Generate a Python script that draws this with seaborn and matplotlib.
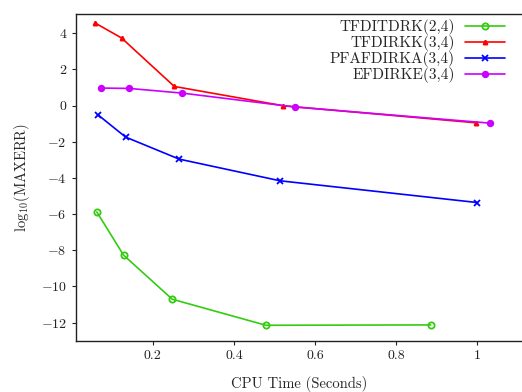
import matplotlib
matplotlib.use("Agg")
import matplotlib.pyplot as plt
import seaborn as sns
import pandas as pd

sns.set_style("ticks")
plt.rcParams['font.family'] = 'serif'
plt.rcParams['font.serif'] = ['cmr10']
plt.rcParams['mathtext.fontset'] = 'cm'
plt.rcParams['axes.formatter.use_mathtext'] = True

labels = ["TFDITDRK(2,4)", "TFDIRKK(3,4)", "PFAFDIRKA(3,4)", "EFDIRKE(3,4)"]
x_tfditdrk = [0.062, 0.128, 0.248, 0.479, 0.885]
y_tfditdrk = [-5.88, -8.27, -10.71, -12.15, -12.13]
x_tfdirkk = [0.057, 0.123, 0.253, 0.522, 0.996]
y_tfdirkk = [4.58, 3.74, 1.06, -0.01, -0.95]
x_pfafdirka = [0.066, 0.133, 0.265, 0.514, 0.999]
y_pfafdirka = [-0.53, -1.74, -2.96, -4.16, -5.36]
x_efdirke = [0.073, 0.142, 0.273, 0.551, 1.031]
y_efdirke = [0.97, 0.95, 0.69, -0.08, -0.97]
x_ticks = [0.2, 0.4, 0.6, 0.8, 1.0]
y_ticks = [4, 2, 0, -2, -4, -6, -8, -10, -12]

xs = [x_tfditdrk, x_tfdirkk, x_pfafdirka, x_efdirke]
ys = [y_tfditdrk, y_tfdirkk, y_pfafdirka, y_efdirke]
colors = ['#33cc11', '#ff0000', '#0000ff', '#cc00ff']
markers = ['o', '^', 'x', 'o']
msizes = [4.5, 3, 5, 4]
mfcs = ['none', '#ff0000', '#0000ff', '#cc00ff']

fig = plt.figure(figsize=(5.22, 3.92), dpi=100)
ax = fig.add_axes([0.145, 0.131, 0.855, 0.833])

for lab, x, y, c, m, ms, mfc in zip(labels, xs, ys, colors, markers, msizes, mfcs):
    df = pd.DataFrame({"x": x, "y": y})
    sns.lineplot(data=df, x="x", y="y", ax=ax, sort=False, color=c, marker=m,
                 markersize=ms, markerfacecolor=mfc, markeredgecolor=c,
                 markeredgewidth=1.3, linewidth=1.2, label=lab)

ax.set_xlim(0.01, 1.11)
ax.set_ylim(-13, 5.06)
ax.set_xticks(x_ticks)
ax.set_xticklabels(["0.2", "0.4", "0.6", "0.8", "1"])
ax.set_yticks(y_ticks)
ax.set_yticklabels([str(v) if v >= 0 else r"$-$" + str(-v) for v in y_ticks])
ax.tick_params(direction='out', length=3, width=0.8, labelsize=10, colors='#222222')
for s in ['left', 'bottom', 'top']:
    ax.spines[s].set_linewidth(1.0)
    ax.spines[s].set_color('#222222')
ax.spines['right'].set_visible(False)

ax.set_xlabel("CPU Time (Seconds)", fontsize=10.5, labelpad=10)
ax.set_ylabel(r"$\mathrm{log}_{10}$(MAXERR)", fontsize=10.5, labelpad=6)

ax.legend(loc='upper right', frameon=False, markerfirst=False, fontsize=11,
          handlelength=2.6, handletextpad=0.7, labelspacing=0.0,
          borderaxespad=0.0, borderpad=0.0,
          bbox_to_anchor=(0.962, 0.984))

fig.savefig("out.png", dpi=100)
